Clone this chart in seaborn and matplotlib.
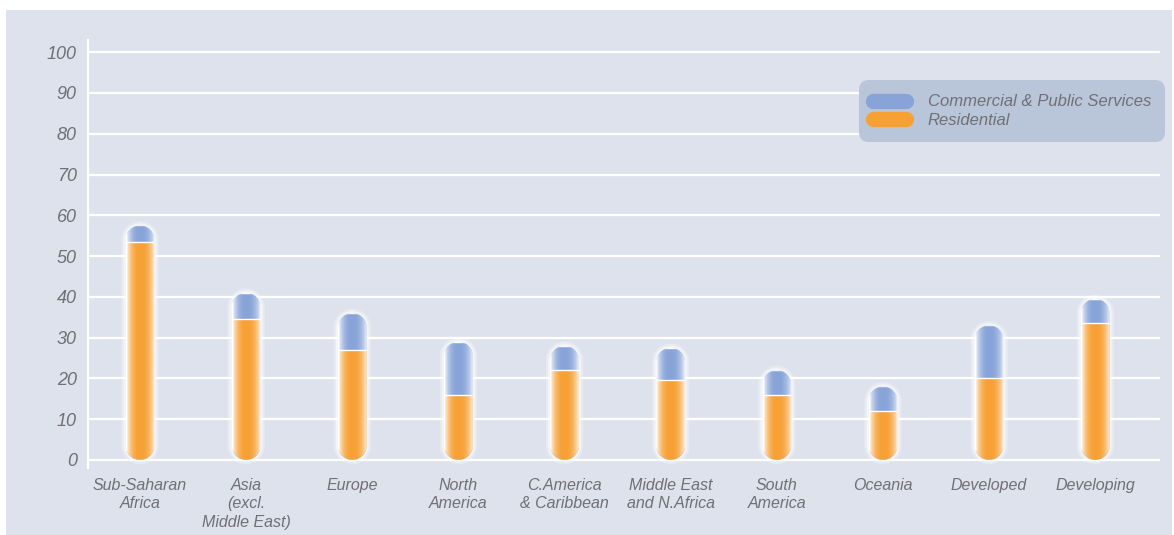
import numpy as np
import matplotlib
matplotlib.use("Agg")
import matplotlib.pyplot as plt
from matplotlib.patches import Polygon, Rectangle
from matplotlib.lines import Line2D
import seaborn as sns

# Energy use shares by region (%), split into residential and commercial/public services
regions = ["Sub-Saharan\nAfrica", "Asia\n(excl.\nMiddle East)", "Europe", "North\nAmerica",
           "C.America\n& Caribbean", "Middle East\nand N.Africa", "South\nAmerica",
           "Oceania", "Developed", "Developing"]
residential = [53.5, 34.5, 27, 16, 22, 19.5, 16, 12, 20, 33.5]
commercial = [4, 6.5, 9, 13, 6, 8, 6, 6, 13, 6]
y_ticks = [0, 10, 20, 30, 40, 50, 60, 70, 80, 90, 100]
series_names = ["Commercial & Public Services", "Residential"]

totals = [r + c for r, c in zip(residential, commercial)]

ORANGE = "#f7a034"
BLUE = "#87a3d8"
TEXT = "#707076"
BG = "#dde2ec"

sns.set_style("white")
plt.rcParams["font.family"] = ["Liberation Sans", "DejaVu Sans"]

W, H, DPI = 1174, 535, 100
fig = plt.figure(figsize=(W / DPI, H / DPI), dpi=DPI, facecolor="white")

# panel background
fig.patches.append(Rectangle((6 / W, 0), (W - 8) / W, (H - 10) / H,
                             transform=fig.transFigure, facecolor=BG,
                             edgecolor="none", zorder=-10))

left_px, right_px, top_px, bottom_px = 88, 1160, 40, 468
ax = fig.add_axes([left_px / W, 1 - bottom_px / H,
                   (right_px - left_px) / W, (bottom_px - top_px) / H])
ax.set_facecolor("none")

XLIM = (-0.49, 9.61)
YLIM = (-2, 103)

bar_w = 0.27
sns.barplot(x=regions, y=totals, color=BLUE, width=bar_w, saturation=1, ax=ax, zorder=3)
sns.barplot(x=regions, y=residential, color=ORANGE, width=bar_w, saturation=1, ax=ax, zorder=4)
ax.set_xlim(*XLIM)
ax.set_ylim(*YLIM)

# pixel scale of each axis, used to make the round caps circular on screen
px_x = (right_px - left_px) / (XLIM[1] - XLIM[0])
px_y = (bottom_px - top_px) / (YLIM[1] - YLIM[0])
aspect = px_x / px_y

n = len(regions)
blue_bars = list(ax.patches[:n])
orange_bars = list(ax.patches[n:2 * n])

# side-lit highlight: white, stronger towards the edges
t = np.linspace(0, 1, 64)
alpha = 0.8 * np.abs(2 * t - 1) ** 2.4
alpha[: len(t) // 2] *= 1.2
alpha = np.clip(alpha, 0, 0.9)
shine = np.zeros((1, len(t), 4))
shine[..., :3] = 1.0
shine[0, :, 3] = alpha


def capsule(x0, w, h, pad=0.0, **kw):
    """Pill outline spanning the bar, with semicircular ends in screen space."""
    rx = w / 2 + pad
    ry = rx * aspect
    cx = x0 + w / 2
    bottom, top = -pad * aspect, h + pad * aspect
    th_top = np.linspace(0, np.pi, 40)
    th_bot = np.linspace(np.pi, 2 * np.pi, 40)
    xs = np.concatenate([cx + rx * np.cos(th_top), cx + rx * np.cos(th_bot)])
    ys = np.concatenate([top - ry + ry * np.sin(th_top),
                         bottom + ry + ry * np.sin(th_bot)])
    return Polygon(np.column_stack([xs, ys]), closed=True,
                   transform=ax.transData, **kw)


for bb, ob in zip(blue_bars, orange_bars):
    x0, w, h = bb.get_x(), bb.get_width(), bb.get_height()
    clip = capsule(x0, w, h, facecolor="none", edgecolor="none")
    ax.add_patch(clip)
    bb.set_clip_path(clip)
    ob.set_clip_path(clip)
    # soft white glow hugging the capsule
    for pad, a in [(0.04, 0.3), (0.02, 0.5)]:
        ax.add_patch(capsule(x0, w, h, pad=pad, facecolor="white",
                             edgecolor="none", alpha=a, zorder=2))
    im = ax.imshow(shine, extent=(x0, x0 + w, 0, h), aspect="auto",
                   interpolation="bilinear", zorder=5)
    im.set_clip_path(clip)

ax.set_xlim(*XLIM)
ax.set_ylim(*YLIM)

# axes styling
ax.set_yticks(y_ticks)
ax.yaxis.grid(True, color="white", linewidth=1.6, zorder=1)
ax.xaxis.grid(False)
ax.set_axisbelow(True)
for s in ["top", "right", "bottom"]:
    ax.spines[s].set_visible(False)
ax.spines["left"].set_color("white")
ax.spines["left"].set_linewidth(1.6)
ax.tick_params(axis="y", length=0, pad=8, labelsize=13, labelcolor=TEXT)
ax.tick_params(axis="x", which="major", length=0, pad=7, labelsize=11.5, labelcolor=TEXT)
ax.set_xticks(np.arange(n) + 0.5, minor=True)
ax.tick_params(axis="x", which="minor", length=5, color="white", width=1.5, direction="in")
for lab in ax.get_yticklabels() + ax.get_xticklabels():
    lab.set_fontstyle("italic")
for lab in ax.get_xticklabels():
    lab.set_linespacing(1.3)
ax.set_xlabel("")
ax.set_ylabel("")

# legend with rounded capsule keys
handles = [Line2D([0], [0], color=BLUE, lw=11, solid_capstyle="round"),
           Line2D([0], [0], color=ORANGE, lw=11, solid_capstyle="round")]
leg = ax.legend(handles, series_names, loc="upper right",
                bbox_to_anchor=(1.005, 0.906), borderaxespad=0,
                frameon=True, fancybox=True, facecolor="#b9c6d9", edgecolor="none",
                framealpha=1, prop={"style": "italic", "size": 12},
                labelcolor=TEXT, handlelength=2.0, handletextpad=1.3,
                borderpad=0.85, labelspacing=0.2)
leg.get_frame().set_boxstyle("round,pad=0,rounding_size=0.6")
leg.set_zorder(10)

fig.savefig("out.png", dpi=DPI, facecolor="white")
